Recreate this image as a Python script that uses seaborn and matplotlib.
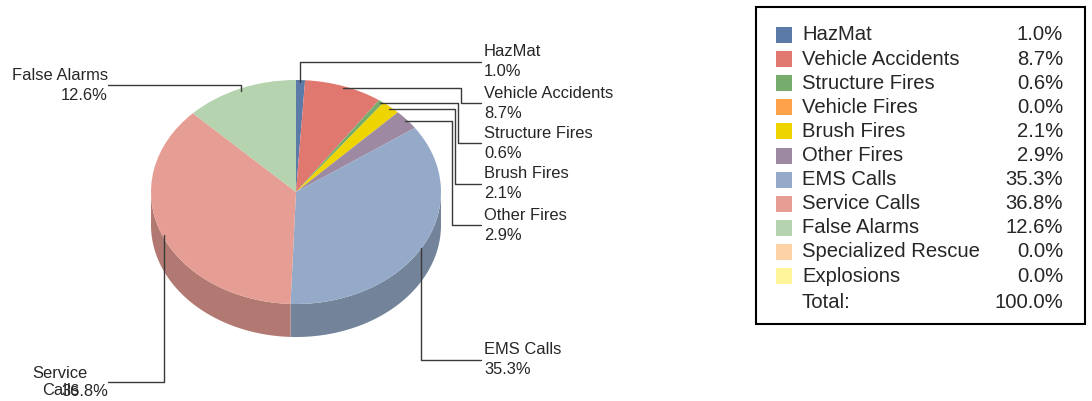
"""
3D-style pie chart of incident types with a value legend.
"""
import numpy as np
import matplotlib
matplotlib.use("Agg")
import matplotlib.pyplot as plt
import seaborn as sns
from matplotlib.patches import Rectangle

categories = ["HazMat", "Vehicle Accidents", "Structure Fires", "Vehicle Fires",
              "Brush Fires", "Other Fires", "EMS Calls", "Service Calls",
              "False Alarms", "Specialized Rescue", "Explosions"]
percents = [1.0, 8.7, 0.6, 0.0, 2.1, 2.9, 35.3, 36.8, 12.6, 0.0, 0.0]
colors = ["#5b7aa8", "#e07870", "#76ad6c", "#ffa24c", "#eed400", "#9d89a1",
          "#94aac8", "#e69d93", "#b5d3ae", "#fdd2a6", "#fff59b"]
total_text = "Total:"
total_value = "100.0%"

# geometry (pixels)
W, H = 1092, 401
CX, CY = 296, 192
RX, RY = 145, 112
DEPTH = 33

# label placement: side, y of leader line, x of knee (None = straight up/down)
label_layout = {
    "HazMat": ("right", 62, None),
    "Vehicle Accidents": ("right", 103, 461),
    "Structure Fires": ("right", 143, 458),
    "Brush Fires": ("right", 184, 455),
    "Other Fires": ("right", 225, 452),
    "EMS Calls": ("right", 360, None),
    "False Alarms": ("left", 85, None),
    "Service Calls": ("left", 382, None),
}

LABEL_FS = 11.9
LEGEND_FS = 14.6


def darker(c, f=0.77):
    r, g, b = matplotlib.colors.to_rgb(c)
    return (r * f, g * f, b * f)


def main():
    sns.set_theme(style="white")
    plt.rcParams["font.family"] = ["Liberation Sans", "DejaVu Sans"]

    fig = plt.figure(figsize=(W / 100, H / 100), dpi=100)
    ax = fig.add_axes([0, 0, 1, 1])

    vals = np.array(percents)
    cum = np.concatenate([[0], np.cumsum(vals)]) / vals.sum()
    d = DEPTH / RY

    # side walls of the front half
    for i, c in enumerate(colors):
        hi = 90 - 360 * cum[i]
        lo = 90 - 360 * cum[i + 1]
        a, b = max(lo, -180), min(hi, 0)
        if b <= a:
            continue
        t = np.radians(np.linspace(a, b, 200))
        xs = np.concatenate([np.cos(t), np.cos(t[::-1])])
        ys = np.concatenate([np.sin(t), np.sin(t[::-1]) - d])
        ax.fill(xs, ys, color=darker(c), lw=0, zorder=1)

    wedges, _ = ax.pie(vals, colors=colors, startangle=90, counterclock=False,
                       radius=1, wedgeprops=dict(linewidth=0))
    for w in wedges:
        w.set_zorder(2)

    ax.set_aspect("auto")
    ax.set_xlim(-CX / RX, (W - CX) / RX)
    ax.set_ylim((CY - H) / RY, CY / RY)
    ax.set_axis_off()

    # overlay in pixel coords for labels and legend
    ann = fig.add_axes([0, 0, 1, 1])
    ann.set_xlim(0, W)
    ann.set_ylim(H, 0)
    ann.set_axis_off()

    line_kw = dict(color="#3a3a3a", lw=1)
    for name, (side, ly, knee) in label_layout.items():
        i = categories.index(name)
        mid = np.radians(90 - 180 * (cum[i] + cum[i + 1]))
        px = CX + RX * 0.98 * np.cos(mid)
        py = CY - RY * 0.98 * np.sin(mid)
        if np.sin(mid) < 0:
            py += 3
        end_x = 481 if side == "right" else 108
        if knee is None:
            ann.plot([px, px, end_x], [py, ly, ly], **line_kw)
        else:
            ann.plot([px, knee, knee, end_x], [py, py, ly, ly], **line_kw)
        pct = f"{percents[i]:.1f}%"
        if side == "right":
            ann.text(484, ly - 10, name, ha="left", va="center", fontsize=LABEL_FS)
            ann.text(484, ly + 10, pct, ha="left", va="center", fontsize=LABEL_FS)
        elif name == "Service Calls":
            ann.text(88, ly, name.replace(" ", "\n"), ha="right", va="center",
                     multialignment="center", fontsize=LABEL_FS, linespacing=1.15)
            ann.text(108, ly + 10, pct, ha="right", va="center", fontsize=LABEL_FS)
        else:
            ann.text(108, ly - 9, name, ha="right", va="center", fontsize=LABEL_FS)
            ann.text(108, ly + 11, pct, ha="right", va="center", fontsize=LABEL_FS)

    # legend box
    ann.add_patch(Rectangle((756, 7), 329, 317, fill=False, ec="black", lw=1.5))
    for k, (name, p, c) in enumerate(zip(categories, percents, colors)):
        y = 35 + 24.1 * k
        ann.add_patch(Rectangle((776, y - 8), 16, 16, color=c, lw=0))
        ann.text(802, y, name, ha="left", va="center", fontsize=LEGEND_FS)
        ann.text(1063, y, f"{p:.1f}%", ha="right", va="center", fontsize=LEGEND_FS)
    ann.text(802, 302, total_text, ha="left", va="center", fontsize=LEGEND_FS)
    ann.text(1063, 302, total_value, ha="right", va="center", fontsize=LEGEND_FS)

    fig.savefig("out.png", dpi=100)
    plt.close(fig)


if __name__ == "__main__":
    main()
